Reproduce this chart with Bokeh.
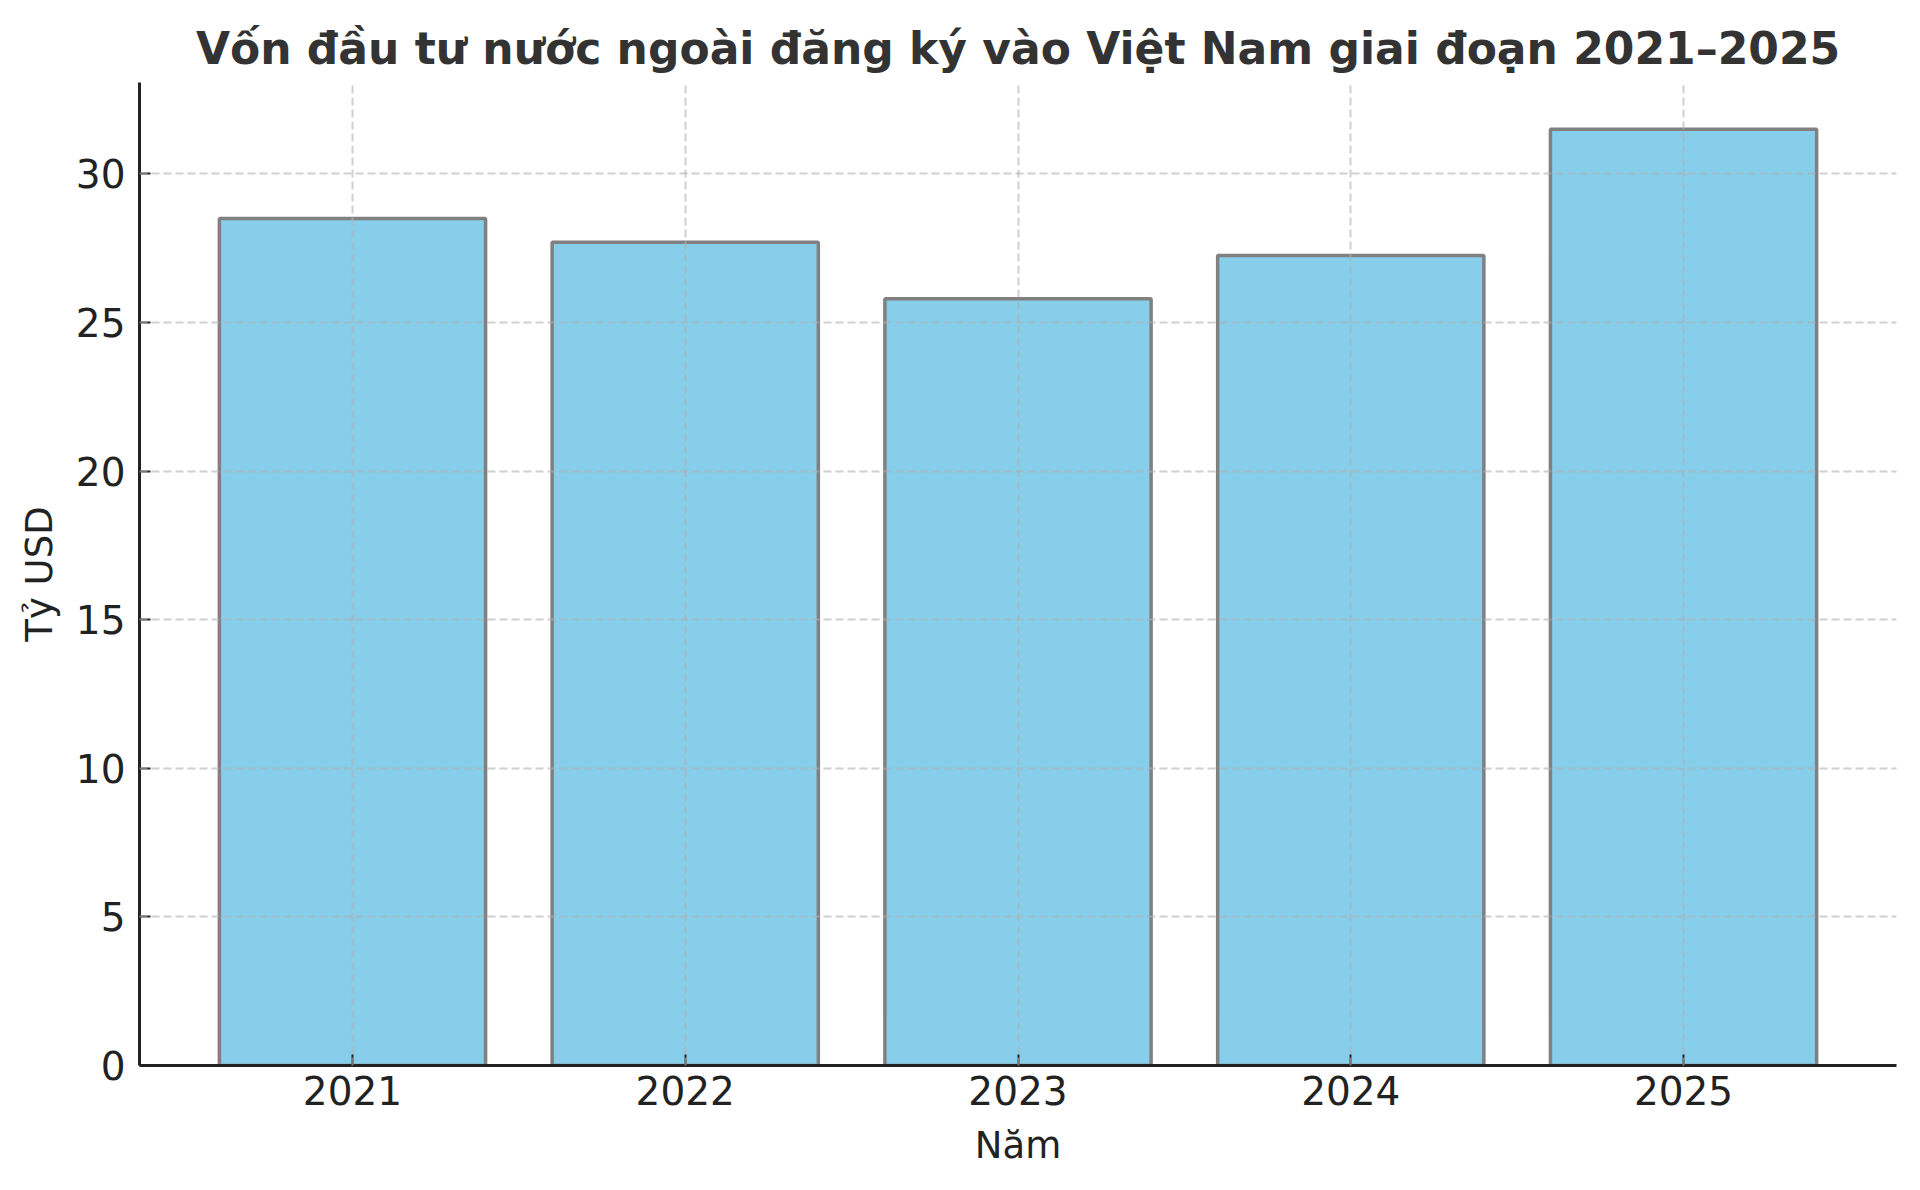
from bokeh.plotting import figure
from bokeh.models import Range1d, FixedTicker, SingleIntervalTicker
from bokeh.embed import file_html
from bokeh.resources import INLINE

# Registered FDI into Vietnam, billion USD
years = ["2021", "2022", "2023", "2024", "2025"]
fdi = [28.5, 27.7, 25.8, 27.25, 31.5]

x_pos = list(range(len(years)))

p = figure(width=1920, height=1190, output_backend="svg", toolbar_location=None,
           x_range=Range1d(-0.64, len(years) - 1 + 0.64),
           y_range=Range1d(0, max(fdi) * 1.05),
           min_border_left=139, min_border_right=24,
           min_border_top=82, min_border_bottom=125)

p.title.text = "Vốn đầu tư nước ngoài đăng ký vào Việt Nam giai đoạn 2021–2025"
p.title.align = "center"
p.title.text_font = "DejaVu Sans"
p.title.text_font_size = "44px"
p.title.text_font_style = "bold"
p.title.text_color = "#333333"
p.title.standoff = 18

p.vbar(x=x_pos, top=fdi, width=0.8, fill_color="#87CEEB",
       line_color="#808080", line_width=3.5)

p.outline_line_color = None

# axes
p.xaxis.ticker = FixedTicker(ticks=x_pos)
p.xaxis.major_label_overrides = {i: y for i, y in enumerate(years)}
p.yaxis.ticker = SingleIntervalTicker(interval=5, num_minor_ticks=0)

for ax in (p.xaxis, p.yaxis):
    ax.axis_line_color = "#222222"
    ax.axis_line_width = 3
    ax.major_tick_line_color = "#222222"
    ax.major_tick_line_width = 2
    ax.major_tick_in = 11
    ax.major_tick_out = 0
    ax.minor_tick_line_color = None
    ax.major_label_text_font = "DejaVu Sans"
    ax.major_label_text_font_size = "39px"
    ax.major_label_text_color = "#222222"
    ax.axis_label_text_font = "DejaVu Sans"
    ax.axis_label_text_font_size = "37px"
    ax.axis_label_text_font_style = "normal"
    ax.axis_label_text_color = "#222222"

p.xaxis.axis_label = "Năm"
p.yaxis.axis_label = "Tỷ USD"
p.xaxis.major_label_standoff = 10
p.yaxis.major_label_standoff = 14
p.xaxis.axis_label_standoff = 16
p.yaxis.axis_label_standoff = 12

# dashed grid drawn over the bars
for g in (p.xgrid, p.ygrid):
    g.grid_line_color = "#b0b0b0"
    g.grid_line_alpha = 0.6
    g.grid_line_dash = "8 4"
    g.grid_line_width = 2
    g.level = "overlay"

open("out.html", "w").write(file_html(p, INLINE))
